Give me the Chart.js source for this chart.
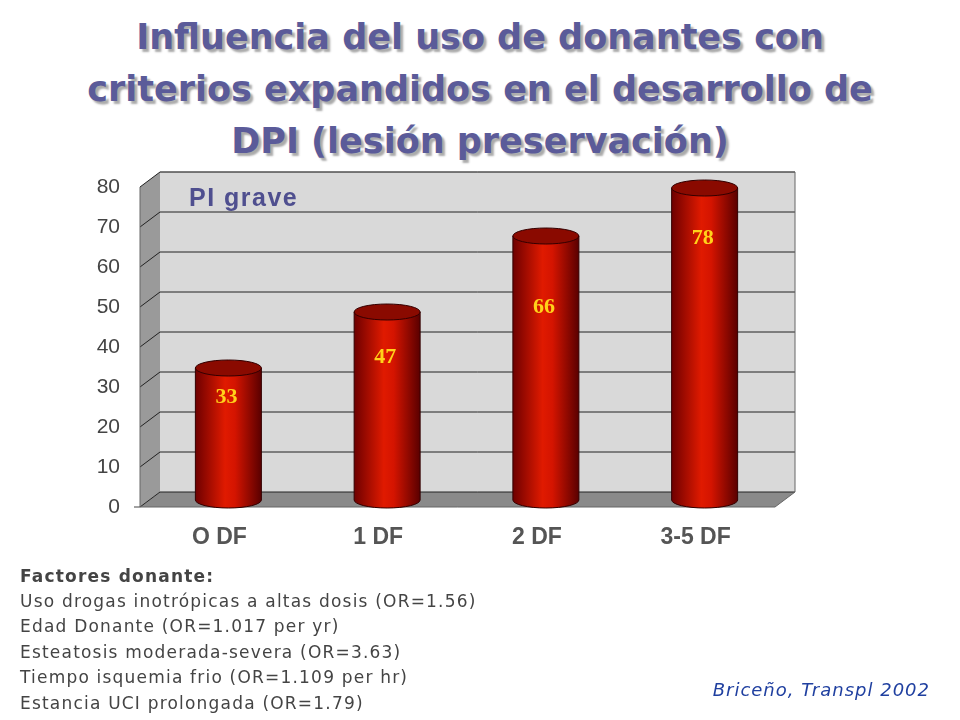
<!DOCTYPE html>
<html><head><meta charset="utf-8">
<script src="https://cdn.jsdelivr.net/npm/chart.js@4/dist/chart.umd.min.js"></script>
<style>
body{margin:0;width:960px;height:720px;background:#fff;position:relative;overflow:hidden;font-family:"DejaVu Sans",sans-serif}
#title{position:absolute;left:0;top:11px;width:960px;text-align:center;font-family:"DejaVu Sans",sans-serif;font-weight:bold;font-size:35px;line-height:52px;color:#5b5b99;text-shadow:3px 3px 2px #aaa}
#c{position:absolute;left:0;top:0}
.t{position:absolute;font-size:17px;color:#444;letter-spacing:1.2px}
</style></head><body>
<div id="title">Influencia del uso de donantes con<br>criterios expandidos en el desarrollo de<br>DPI (lesión preservación)</div>
<canvas id="c" width="960" height="720"></canvas>
<div class="t" style="left:189px;top:183px;font-size:25px;font-weight:bold;color:#4f4f8f;letter-spacing:1.5px;font-family:'Liberation Sans',Arial">PI grave</div>
<div class="t" style="left:20px;top:566px;font-weight:bold">Factores donante:</div>
<div class="t" style="left:20px;top:591px">Uso drogas inotrópicas a altas dosis (OR=1.56)</div>
<div class="t" style="left:20px;top:616px">Edad Donante (OR=1.017 per yr)</div>
<div class="t" style="left:20px;top:642px">Esteatosis moderada-severa (OR=3.63)</div>
<div class="t" style="left:20px;top:667px">Tiempo isquemia frio (OR=1.109 per hr)</div>
<div class="t" style="left:20px;top:693px">Estancia UCI prolongada (OR=1.79)</div>
<div class="t" style="right:30px;top:679px;font-style:italic;color:#2040a0;font-size:18px;letter-spacing:1px">Briceño, Transpl 2002</div>
<script>
const categories=["O DF","1 DF","2 DF","3-5 DF"];
const values=[33,47,66,78];
const yTicks=[0,10,20,30,40,50,60,70,80];
const labelFrac=[0.78,0.76,0.73,0.84];
const DX=20,DY=15;
const wall={id:'wall',beforeDatasetsDraw(ch){
 const c=ch.ctx,a=ch.chartArea,y=ch.scales.y;
 c.save();
 c.fillStyle='#d9d9d9';c.fillRect(a.left+DX,a.top-DY,a.right-a.left,a.bottom-a.top);
 c.fillStyle='#9a9a9a';c.beginPath();c.moveTo(a.left,a.top);c.lineTo(a.left+DX,a.top-DY);c.lineTo(a.left+DX,a.bottom-DY);c.lineTo(a.left,a.bottom);c.fill();
 c.fillStyle='#8a8a8a';c.beginPath();c.moveTo(a.left,a.bottom);c.lineTo(a.left+DX,a.bottom-DY);c.lineTo(a.right+DX,a.bottom-DY);c.lineTo(a.right,a.bottom);c.fill();
 c.strokeStyle='#222';c.lineWidth=1;
 yTicks.forEach(v=>{const py=y.getPixelForValue(v);c.beginPath();c.moveTo(a.left,py);c.lineTo(a.left+DX,py-DY);c.lineTo(a.right+DX,py-DY);c.stroke();});
 c.strokeStyle='#666';c.beginPath();c.moveTo(a.left+DX,a.top-DY);c.lineTo(a.right+DX,a.top-DY);c.lineTo(a.right+DX,a.bottom-DY);c.lineTo(a.right,a.bottom);c.lineTo(a.left,a.bottom);c.lineTo(a.left,a.top);c.stroke();
 c.strokeStyle='#444';c.beginPath();c.moveTo(a.left-6,a.bottom);c.lineTo(a.left,a.bottom);c.stroke();
 ch.getDatasetMeta(0).data.forEach((b,i)=>{
  const cx=b.x+9,w=66,r=w/2,eh=8,top=b.y-7,bot=ch.scales.y.getPixelForValue(0)-7;
  const g=c.createLinearGradient(cx-r,0,cx+r,0);
  g.addColorStop(0,'#6e0000');g.addColorStop(0.45,'#e01a00');g.addColorStop(0.6,'#d41400');g.addColorStop(1,'#5a0000');
  c.fillStyle=g;c.beginPath();c.moveTo(cx-r,top);c.lineTo(cx-r,bot);c.ellipse(cx,bot,r,eh,0,Math.PI,0,true);c.lineTo(cx+r,top);c.closePath();c.fill();
  c.strokeStyle='#300';c.stroke();
  c.fillStyle='#8a0a00';c.beginPath();c.ellipse(cx,top,r,eh,0,0,Math.PI*2);c.fill();c.stroke();
  const ly=top+(bot-top)*(1-labelFrac[i]);
  c.fillStyle='#ffd21a';c.font='bold 22px "Liberation Serif",serif';c.textAlign='center';c.textBaseline='middle';
  c.fillText(values[i],cx-2,ly);
 });
 c.restore();}};
new Chart(document.getElementById('c'),{type:'bar',
 data:{labels:categories,datasets:[{data:values,backgroundColor:'rgba(0,0,0,0)'}]},
 options:{responsive:false,animation:false,events:[],
  layout:{padding:{left:0,top:187,right:185,bottom:0}},
  plugins:{legend:{display:false},tooltip:{enabled:false}},
  scales:{
   y:{min:0,max:80,afterFit(s){s.width=140;},afterBuildTicks(s){s.ticks=yTicks.map(v=>({value:v}));},
      grid:{display:false},border:{display:false},ticks:{padding:12,color:'#444',font:{size:21,family:'"Liberation Sans",Arial'}}},
   x:{afterFit(s){s.height=213;},grid:{display:false},border:{display:false},
      ticks:{padding:9,color:'#555',font:{size:23,weight:'bold',family:'"Liberation Sans",Arial'}}}
  }},plugins:[wall]});
</script></body></html>
